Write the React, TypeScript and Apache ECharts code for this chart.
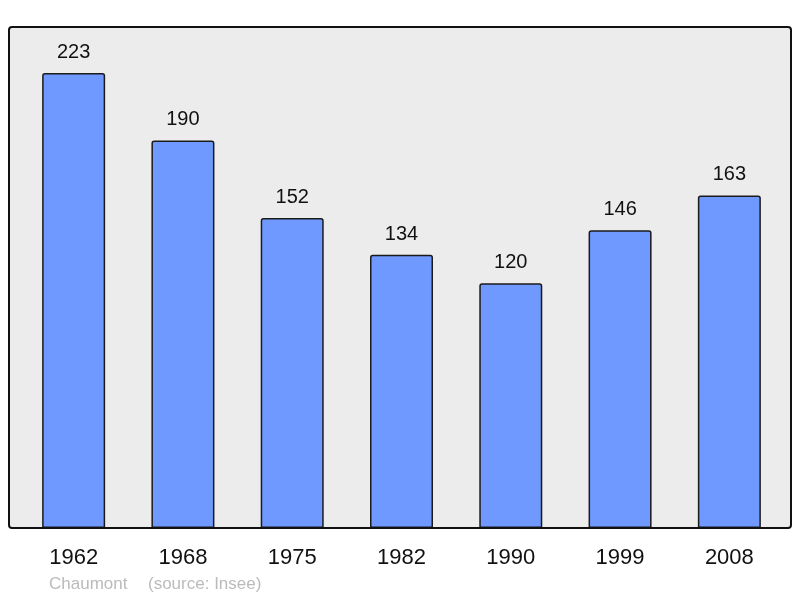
import { useEffect, useRef } from "react";
import * as echarts from "echarts";

const years = ["1962", "1968", "1975", "1982", "1990", "1999", "2008"];
const population = [223, 190, 152, 134, 120, 146, 163];

const FONT = "'Liberation Sans', Arial, sans-serif";

export default function App() {
  const chartRef = useRef<HTMLDivElement>(null);

  useEffect(() => {
    if (!chartRef.current) return;
    const chart = echarts.init(chartRef.current, undefined, { renderer: "svg" });

    chart.setOption({
      animation: false,
      grid: { left: 19, right: 16, top: 27, bottom: 70 },
      graphic: [
        {
          type: "rect",
          z: -10,
          shape: { x: 9, y: 27, width: 782, height: 501, r: 3 },
          style: { fill: "#ececec" },
        },
        {
          type: "rect",
          z: 100,
          shape: { x: 9, y: 27, width: 782, height: 501, r: 3 },
          style: { fill: "none", stroke: "#111", lineWidth: 2 },
        },
        {
          type: "text",
          left: 49,
          top: 575,
          style: { text: "Chaumont", fill: "#bbbbbb", fontSize: 17, fontFamily: FONT },
        },
        {
          type: "text",
          left: 148,
          top: 575,
          style: { text: "(source: Insee)", fill: "#bbbbbb", fontSize: 17, fontFamily: FONT },
        },
      ],
      xAxis: {
        type: "category",
        data: years,
        axisLine: { show: false },
        axisTick: { show: false },
        axisLabel: { fontSize: 22, color: "#111", fontFamily: FONT, margin: 17 },
      },
      yAxis: {
        type: "value",
        min: 0,
        max: 245.6,
        show: false,
        splitLine: { show: false },
      },
      series: [
        {
          type: "bar",
          data: population,
          barWidth: 63,
          itemStyle: {
            color: "#7099ff",
            borderColor: "#1a1a1a",
            borderWidth: 1.5,
            borderRadius: [2, 2, 0, 0],
          },
          label: {
            show: true,
            position: "top",
            distance: 12,
            fontSize: 20,
            color: "#111",
            fontFamily: FONT,
          },
        },
      ],
    });

    return () => {
      chart.dispose();
    };
  }, []);

  return (
    <div
      ref={chartRef}
      style={{ position: "fixed", left: 0, top: 0, width: 800, height: 598 }}
    />
  );
}
